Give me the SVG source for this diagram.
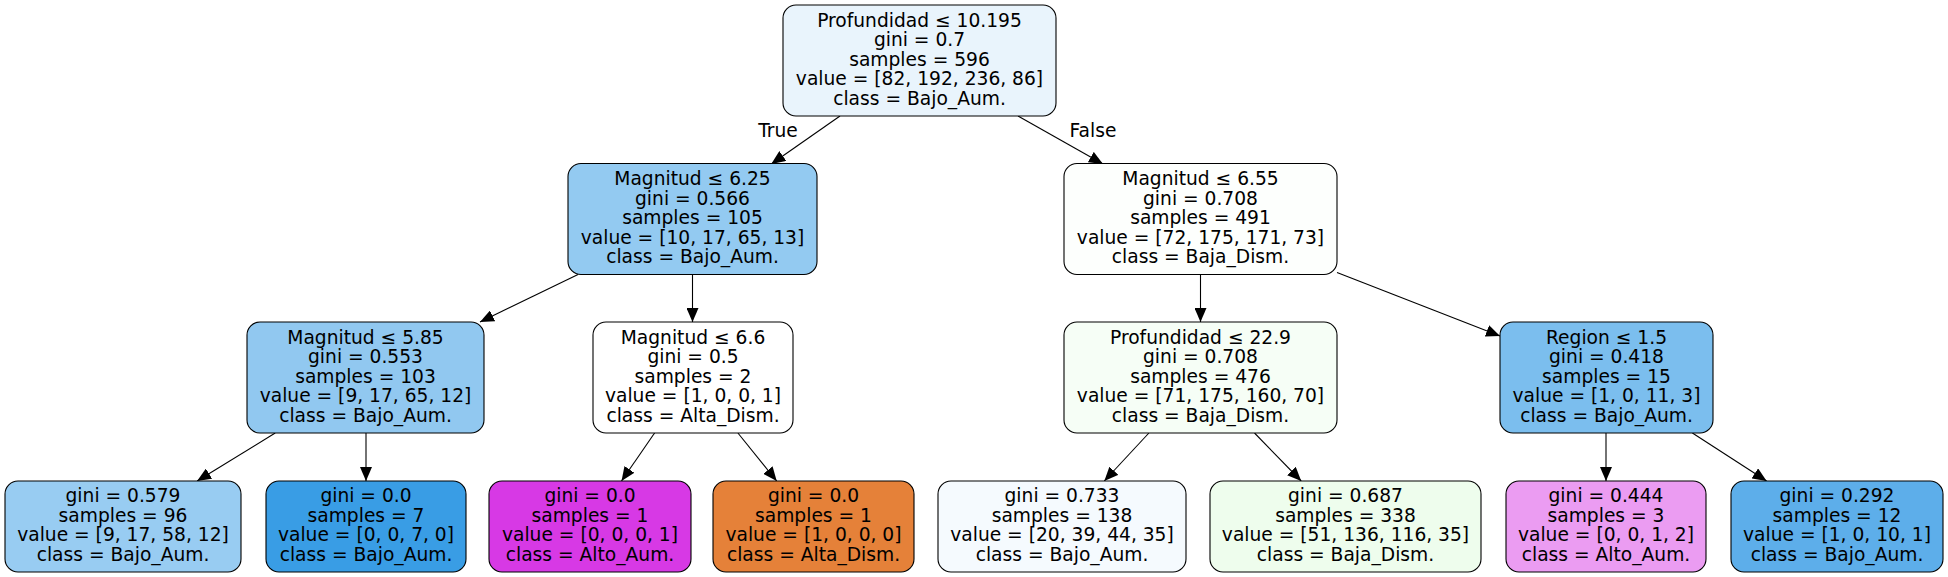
<svg xmlns="http://www.w3.org/2000/svg" width="1948" height="577" viewBox="0 0 1948 577">
<style>
  .n rect { stroke: #000; stroke-width: 1.1; }
  text { font-family: "DejaVu Sans", "Liberation Sans", sans-serif; font-size: 18.67px; fill: #000; text-anchor: middle; }
  .e line { stroke: #000; stroke-width: 1.1; }
</style>
<defs>
  <marker id="ah" markerUnits="userSpaceOnUse" markerWidth="14" markerHeight="12" refX="14" refY="6" orient="auto">
    <path d="M0,0 L14,6 L0,12 Z" fill="#000"/>
  </marker>
</defs>
<rect width="1948" height="577" fill="#fff"/>
<g id="edges" class="e">
  <line x1="840" y1="116" x2="771.3" y2="164" marker-end="url(#ah)"/>
  <line x1="1018" y1="116" x2="1103" y2="164" marker-end="url(#ah)"/>
  <line x1="578" y1="274.5" x2="480" y2="322" marker-end="url(#ah)"/>
  <line x1="692.5" y1="274.5" x2="692.5" y2="322" marker-end="url(#ah)"/>
  <line x1="1200.5" y1="274.5" x2="1200.5" y2="322" marker-end="url(#ah)"/>
  <line x1="1337" y1="272.4" x2="1500" y2="336" marker-end="url(#ah)"/>
  <line x1="275.2" y1="433" x2="197.1" y2="481" marker-end="url(#ah)"/>
  <line x1="366" y1="433" x2="366" y2="481" marker-end="url(#ah)"/>
  <line x1="654.6" y1="433" x2="621.5" y2="481" marker-end="url(#ah)"/>
  <line x1="737.9" y1="433" x2="776.7" y2="481" marker-end="url(#ah)"/>
  <line x1="1148.9" y1="433" x2="1104.3" y2="481" marker-end="url(#ah)"/>
  <line x1="1254.5" y1="433" x2="1301.2" y2="481" marker-end="url(#ah)"/>
  <line x1="1606" y1="433" x2="1606" y2="481" marker-end="url(#ah)"/>
  <line x1="1692.4" y1="433" x2="1766.6" y2="481" marker-end="url(#ah)"/>
  <text x="778" y="136.5">True</text>
  <text x="1093" y="136.5">False</text>
</g>
<g id="n0" class="n">
  <rect x="783" y="5" width="273" height="111" rx="13" fill="#e9f4fc"/>
  <text x="919.5" y="26.5">Profundidad ≤ 10.195</text>
  <text x="919.5" y="46">gini = 0.7</text>
  <text x="919.5" y="65.5">samples = 596</text>
  <text x="919.5" y="85">value = [82, 192, 236, 86]</text>
  <text x="919.5" y="104.5">class = Bajo_Aum.</text>
</g>
<g id="n1" class="n">
  <rect x="568" y="163.5" width="249" height="111" rx="13" fill="#93caf1"/>
  <text x="692.5" y="185">Magnitud ≤ 6.25</text>
  <text x="692.5" y="204.5">gini = 0.566</text>
  <text x="692.5" y="224">samples = 105</text>
  <text x="692.5" y="243.5">value = [10, 17, 65, 13]</text>
  <text x="692.5" y="263">class = Bajo_Aum.</text>
</g>
<g id="n2" class="n">
  <rect x="1064" y="163.5" width="273" height="111" rx="13" fill="#fdfffd"/>
  <text x="1200.5" y="185">Magnitud ≤ 6.55</text>
  <text x="1200.5" y="204.5">gini = 0.708</text>
  <text x="1200.5" y="224">samples = 491</text>
  <text x="1200.5" y="243.5">value = [72, 175, 171, 73]</text>
  <text x="1200.5" y="263">class = Baja_Dism.</text>
</g>
<g id="n3" class="n">
  <rect x="247" y="322" width="237" height="111" rx="13" fill="#91c8f0"/>
  <text x="365.5" y="343.5">Magnitud ≤ 5.85</text>
  <text x="365.5" y="363">gini = 0.553</text>
  <text x="365.5" y="382.5">samples = 103</text>
  <text x="365.5" y="402">value = [9, 17, 65, 12]</text>
  <text x="365.5" y="421.5">class = Bajo_Aum.</text>
</g>
<g id="n4" class="n">
  <rect x="593" y="322" width="200" height="111" rx="13" fill="#ffffff"/>
  <text x="693" y="343.5">Magnitud ≤ 6.6</text>
  <text x="693" y="363">gini = 0.5</text>
  <text x="693" y="382.5">samples = 2</text>
  <text x="693" y="402">value = [1, 0, 0, 1]</text>
  <text x="693" y="421.5">class = Alta_Dism.</text>
</g>
<g id="n5" class="n">
  <rect x="1064" y="322" width="273" height="111" rx="13" fill="#f6fef6"/>
  <text x="1200.5" y="343.5">Profundidad ≤ 22.9</text>
  <text x="1200.5" y="363">gini = 0.708</text>
  <text x="1200.5" y="382.5">samples = 476</text>
  <text x="1200.5" y="402">value = [71, 175, 160, 70]</text>
  <text x="1200.5" y="421.5">class = Baja_Dism.</text>
</g>
<g id="n6" class="n">
  <rect x="1500" y="322" width="213" height="111" rx="13" fill="#7bbeee"/>
  <text x="1606.5" y="343.5">Region ≤ 1.5</text>
  <text x="1606.5" y="363">gini = 0.418</text>
  <text x="1606.5" y="382.5">samples = 15</text>
  <text x="1606.5" y="402">value = [1, 0, 11, 3]</text>
  <text x="1606.5" y="421.5">class = Bajo_Aum.</text>
</g>
<g id="n7" class="n">
  <rect x="5" y="481" width="236" height="91" rx="13" fill="#98ccf2"/>
  <text x="123" y="502">gini = 0.579</text>
  <text x="123" y="521.5">samples = 96</text>
  <text x="123" y="541">value = [9, 17, 58, 12]</text>
  <text x="123" y="560.5">class = Bajo_Aum.</text>
</g>
<g id="n8" class="n">
  <rect x="266" y="481" width="200" height="91" rx="13" fill="#399de5"/>
  <text x="366" y="502">gini = 0.0</text>
  <text x="366" y="521.5">samples = 7</text>
  <text x="366" y="541">value = [0, 0, 7, 0]</text>
  <text x="366" y="560.5">class = Bajo_Aum.</text>
</g>
<g id="n9" class="n">
  <rect x="489" y="481" width="202" height="91" rx="13" fill="#d739e5"/>
  <text x="590" y="502">gini = 0.0</text>
  <text x="590" y="521.5">samples = 1</text>
  <text x="590" y="541">value = [0, 0, 0, 1]</text>
  <text x="590" y="560.5">class = Alto_Aum.</text>
</g>
<g id="n10" class="n">
  <rect x="713" y="481" width="201" height="91" rx="13" fill="#e58139"/>
  <text x="813.5" y="502">gini = 0.0</text>
  <text x="813.5" y="521.5">samples = 1</text>
  <text x="813.5" y="541">value = [1, 0, 0, 0]</text>
  <text x="813.5" y="560.5">class = Alta_Dism.</text>
</g>
<g id="n11" class="n">
  <rect x="938" y="481" width="248" height="91" rx="13" fill="#f5fafe"/>
  <text x="1062" y="502">gini = 0.733</text>
  <text x="1062" y="521.5">samples = 138</text>
  <text x="1062" y="541">value = [20, 39, 44, 35]</text>
  <text x="1062" y="560.5">class = Bajo_Aum.</text>
</g>
<g id="n12" class="n">
  <rect x="1210" y="481" width="271" height="91" rx="13" fill="#eefded"/>
  <text x="1345.5" y="502">gini = 0.687</text>
  <text x="1345.5" y="521.5">samples = 338</text>
  <text x="1345.5" y="541">value = [51, 136, 116, 35]</text>
  <text x="1345.5" y="560.5">class = Baja_Dism.</text>
</g>
<g id="n13" class="n">
  <rect x="1506" y="481" width="200" height="91" rx="13" fill="#eb9cf2"/>
  <text x="1606" y="502">gini = 0.444</text>
  <text x="1606" y="521.5">samples = 3</text>
  <text x="1606" y="541">value = [0, 0, 1, 2]</text>
  <text x="1606" y="560.5">class = Alto_Aum.</text>
</g>
<g id="n14" class="n">
  <rect x="1731" y="481" width="212" height="91" rx="13" fill="#5daeea"/>
  <text x="1837" y="502">gini = 0.292</text>
  <text x="1837" y="521.5">samples = 12</text>
  <text x="1837" y="541">value = [1, 0, 10, 1]</text>
  <text x="1837" y="560.5">class = Bajo_Aum.</text>
</g>
</svg>
